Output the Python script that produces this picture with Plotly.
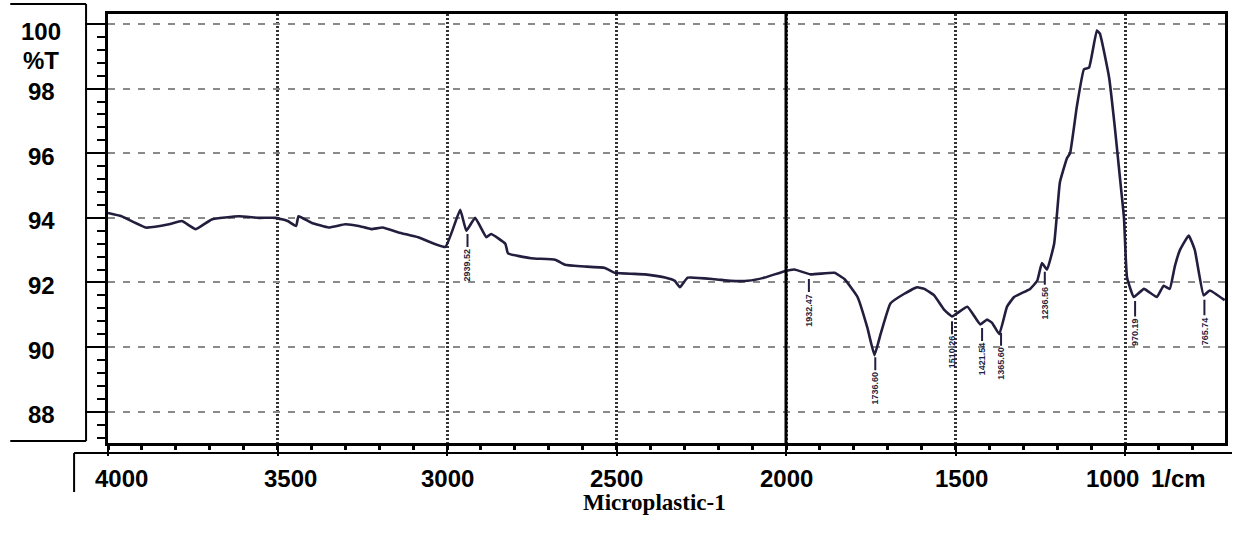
import numpy as np
import plotly.graph_objects as go

# ---- data ----
wavenumber = [4000, 3960, 3888, 3820, 3782, 3741, 3694, 3614, 3555, 3505, 3470, 3445, 3438, 3400, 3349,
              3300, 3261, 3223, 3190, 3143,
              3085, 3005, 2961, 2943, 2917, 2884, 2870, 2828, 2820, 2752, 2681, 2652, 2605, 2534,
              2505, 2416, 2357, 2328, 2313, 2290, 2210, 2163, 2113, 2063, 2004, 1975, 1928, 1857,
              1827, 1789, 1760, 1739, 1721, 1692, 1651, 1613, 1592, 1563, 1533, 1510, 1465, 1427,
              1407, 1392, 1371, 1348, 1327, 1280, 1259, 1245, 1230, 1209, 1200, 1192, 1171, 1162,
              1142, 1121, 1106, 1083, 1074, 1047, 1030, 1015, 1003, 994, 974, 944, 906, 886, 868,
              853, 838, 812, 794, 768, 750, 706]
transmittance = [94.15, 94.05, 93.7, 93.8, 93.9, 93.65, 93.95, 94.05, 94.0, 94.0, 93.9, 93.75, 94.05, 93.85, 93.7,
                 93.8, 93.75, 93.65, 93.7, 93.55,
                 93.4, 93.1, 94.25, 93.6, 94.0, 93.4, 93.5, 93.2, 92.9, 92.75, 92.7, 92.55, 92.5, 92.45,
                 92.3, 92.25, 92.15, 92.05, 91.85, 92.15, 92.1, 92.05, 92.05, 92.15, 92.35, 92.4, 92.25, 92.3,
                 92.1, 91.55, 90.6, 89.75, 90.4, 91.35, 91.65, 91.85, 91.8, 91.6, 91.15, 90.95, 91.25, 90.7,
                 90.85, 90.75, 90.4, 91.25, 91.55, 91.8, 92.05, 92.6, 92.4, 93.2, 94.2, 95.1, 95.85, 96.0,
                 97.45, 98.6, 98.65, 99.8, 99.7, 98.35, 96.8, 95.25, 94.0, 92.15, 91.55, 91.8, 91.55, 91.9, 91.8,
                 92.5, 93.0, 93.45, 93.0, 91.6, 91.75, 91.45]

peak_labels = ["2939.52", "1932.47", "1736.60", "1510.26", "1421.54", "1365.60", "1236.56", "970.19", "765.74"]

y_ticks = [100, 98, 96, 94, 92, 90, 88]
x_ticks = [4000, 3500, 3000, 2500, 2000, 1500, 1000]
x_tick_shift = [13, 13, 0, 0, 0, 6, -13]
title_text = "Microplastic-1"

LINE = "#231d3e"
W, H = 1235, 533
ML, MR, MT, MB = 108, 7, 14, 90
PW, PH = W - ML - MR, H - MT - MB


def px(xp):
    return (xp - ML) / PW


def py(yp):
    return (H - MB - yp) / PH


fig = go.Figure()
fig.add_trace(go.Scatter(x=wavenumber, y=transmittance, mode="lines",
                         line=dict(color=LINE, width=2.6, shape="spline", smoothing=0.35),
                         hoverinfo="skip", showlegend=False))

wn_inc = np.array(wavenumber[::-1], dtype=float)
t_inc = np.array(transmittance[::-1], dtype=float)

annotations = []
for lab in peak_labels:
    xv = float(lab)
    yv = float(np.interp(xv, wn_inc, t_inc))
    annotations.append(dict(x=xv, y=yv, xref="x", yref="y", text=lab, textangle=-90,
                            showarrow=True, arrowhead=0, arrowwidth=2, arrowcolor=LINE,
                            ax=0, ay=36, standoff=5,
                            font=dict(family="Arial, Liberation Sans", size=9, color=LINE,
                                      weight="bold")))

tick_font = dict(family="Arial, Liberation Sans", size=24, color="black", weight="bold")
for v in y_ticks:
    annotations.append(dict(x=px(41), y=v, xref="paper", yref="y", text=str(v), showarrow=False,
                            xanchor="center", yanchor="middle", yshift=-7 if v == 100 else -3,
                            font=tick_font))
annotations.append(dict(x=px(41), y=py(61), xref="paper", yref="paper", text="%T", showarrow=False,
                        xanchor="center", yanchor="middle", font=tick_font))
for v, s in zip(x_ticks, x_tick_shift):
    annotations.append(dict(x=v, y=py(478), xref="x", yref="paper", text=str(v), showarrow=False,
                            xanchor="center", yanchor="middle", xshift=s, font=tick_font))
annotations.append(dict(x=px(1181), y=py(478), xref="paper", yref="paper", text="1/cm", showarrow=False,
                        xanchor="center", yanchor="middle", font=tick_font))
annotations.append(dict(x=px(656), y=py(503), xref="paper", yref="paper", text=title_text, showarrow=False,
                        xanchor="center", yanchor="middle",
                        font=dict(family="Times New Roman, Liberation Serif", size=23, color="black",
                                  weight="bold")))

frame = dict(color="black", width=2)
shapes = [
    # solid line at 2000
    dict(type="line", xref="x", yref="paper", x0=2000, x1=2000, y0=0, y1=1,
         line=dict(color="black", width=3)),
    # left label box
    dict(type="line", xref="paper", yref="paper", x0=px(10), x1=px(86), y0=py(4), y1=py(4), line=frame),
    dict(type="line", xref="paper", yref="paper", x0=px(86), x1=px(86), y0=py(4), y1=py(441), line=frame),
    dict(type="line", xref="paper", yref="paper", x0=px(10), x1=px(86), y0=py(441), y1=py(441), line=frame),
    # bottom label box
    dict(type="line", xref="paper", yref="paper", x0=px(74), x1=px(1235), y0=py(453), y1=py(453), line=frame),
    dict(type="line", xref="paper", yref="paper", x0=px(74), x1=px(74), y0=py(453), y1=py(492), line=frame),
]

fig.update_layout(
    width=W, height=H,
    margin=dict(l=ML, r=MR, t=MT, b=MB, pad=0),
    paper_bgcolor="white", plot_bgcolor="white",
    showlegend=False,
    annotations=annotations,
    shapes=shapes,
    xaxis=dict(range=[4000, 705], tickmode="array", tickvals=x_ticks, showticklabels=False,
               ticks="outside", ticklen=10, tickwidth=2, tickcolor="black",
               showline=True, linewidth=3, linecolor="black", mirror=True,
               showgrid=True, gridcolor="#333333", gridwidth=2.5, griddash="2px,2px",
               zeroline=False,
               minor=dict(tickmode="linear", tick0=0, dtick=100, ticks="outside", ticklen=4,
                          tickwidth=3, tickcolor="black", showgrid=False)),
    yaxis=dict(range=[87.03, 100.31], tickmode="array", tickvals=y_ticks, showticklabels=False,
               ticks="outside", ticklen=20, tickwidth=2, tickcolor="black",
               showline=True, linewidth=3, linecolor="black", mirror=True,
               showgrid=True, gridcolor="#8a8a8a", gridwidth=2, griddash="7px,8px",
               zeroline=False,
               minor=dict(tickmode="linear", tick0=0, dtick=0.4, ticks="outside", ticklen=8,
                          tickwidth=2, tickcolor="black", showgrid=False)),
)

fig.write_html("out.html", config={"displayModeBar": False},
               post_script="document.body.style.margin='0';")
